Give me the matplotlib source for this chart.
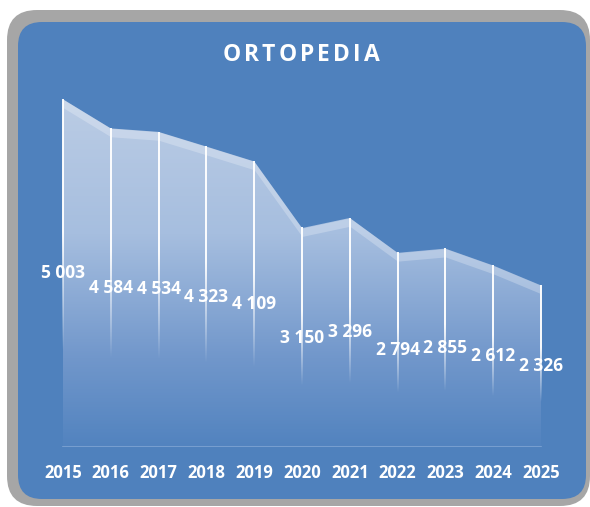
import matplotlib.pyplot as plt
import numpy as np
from matplotlib.patches import FancyBboxPatch
from matplotlib.colors import LinearSegmentedColormap

years = [2015, 2016, 2017, 2018, 2019, 2020, 2021, 2022, 2023, 2024, 2025]
values = [5003, 4584, 4534, 4323, 4109, 3150, 3296, 2794, 2855, 2612, 2326]
labels = ['5 003', '4 584', '4 534', '4 323', '4 109', '3 150', '3 296',
          '2 794', '2 855', '2 612', '2 326']
title = 'ORTOPEDIA'

plt.rcParams['font.family'] = ['Open Sans', 'DejaVu Sans']
BLUE = '#4F81BD'

fig = plt.figure(figsize=(5.9, 5.07), dpi=100)

# frame in pixel coords
bg = fig.add_axes([0, 0, 1, 1])
bg.set_xlim(0, 590)
bg.set_ylim(507, 0)
bg.axis('off')
bg.add_patch(FancyBboxPatch((7, 10), 583, 496, boxstyle='round,pad=0,rounding_size=30',
                            fc='#A6A6A6', ec='none'))
bg.add_patch(FancyBboxPatch((18, 22), 568, 477, boxstyle='round,pad=0,rounding_size=24',
                            fc=BLUE, ec='none'))

# title with letter spacing
fig.canvas.draw()
r = fig.canvas.get_renderer()
gap = 3.2
tsize = 16.5
ws = []
for ch in title:
    t = bg.text(0, 0, ch, fontsize=tsize, fontweight='bold')
    ws.append(t.get_window_extent(r).width)
    t.remove()
total = sum(ws) + gap * (len(title) - 1)
x0 = 301 - total / 2
for ch, w in zip(title, ws):
    bg.text(x0, 55, ch, fontsize=tsize, fontweight='bold', color='white',
            ha='left', va='center')
    x0 += w + gap

# chart
ax = fig.add_axes([39.1 / 590, 60 / 507, 525.8 / 590, 417 / 507])
ax.patch.set_alpha(0)
for s in ax.spines.values():
    s.set_visible(False)

x = np.array(years, dtype=float)
y = np.array(values, dtype=float)

poly = ax.fill_between(x, 0, y, color='none', lw=0)
cmap = LinearSegmentedColormap.from_list(
    'g', [(0, '#5283BF'), (0.25, '#7197CB'), (0.6, '#A6BEDF'), (1, '#BCCDE5')])
grad = np.linspace(0, 1, 256).reshape(-1, 1)
im = ax.imshow(grad, cmap=cmap, origin='lower', aspect='auto',
               extent=[2014.5, 2025.5, 0, 5100], zorder=1)
im.set_clip_path(poly.get_paths()[0], transform=ax.transData)

# lighter top band
ax.fill_between(x, y - 120, y, color='white', alpha=0.25, lw=0, zorder=2)

# baseline
ax.plot([x[0], x[-1]], [0, 0], color='#7FA4D3', lw=1.2, zorder=2)

# drop lines, white fading downward
lw_years = 1.8 / 47.8
t = np.linspace(0, 1, 200)
alpha = np.clip(np.where(t < 0.45, 0.95, 0.95 * (1 - (t - 0.45) / 0.4)), 0, 1)
line_img = np.ones((200, 1, 4))
line_img[:, 0, 3] = alpha
for xi, yi in zip(x, y):
    ax.imshow(line_img, origin='upper', aspect='auto', interpolation='bilinear',
              extent=[xi - lw_years / 2, xi + lw_years / 2, yi * 0.15, yi], zorder=3)

for xi, yi, lab in zip(x, y, labels):
    ax.text(xi, yi / 2, lab, ha='center', va='center', color='white',
            fontsize=12.5, fontweight='bold', zorder=4)

ax.set_xlim(2014.5, 2025.5)
ax.set_ylim(0, 6000)
ax.set_yticks([])
ax.set_xticks(years)
ax.set_xticklabels([str(v) for v in years], color='white', fontsize=12,
                   fontweight='bold')
ax.tick_params(axis='x', length=0, pad=12)

fig.savefig('out.png', dpi=100)
